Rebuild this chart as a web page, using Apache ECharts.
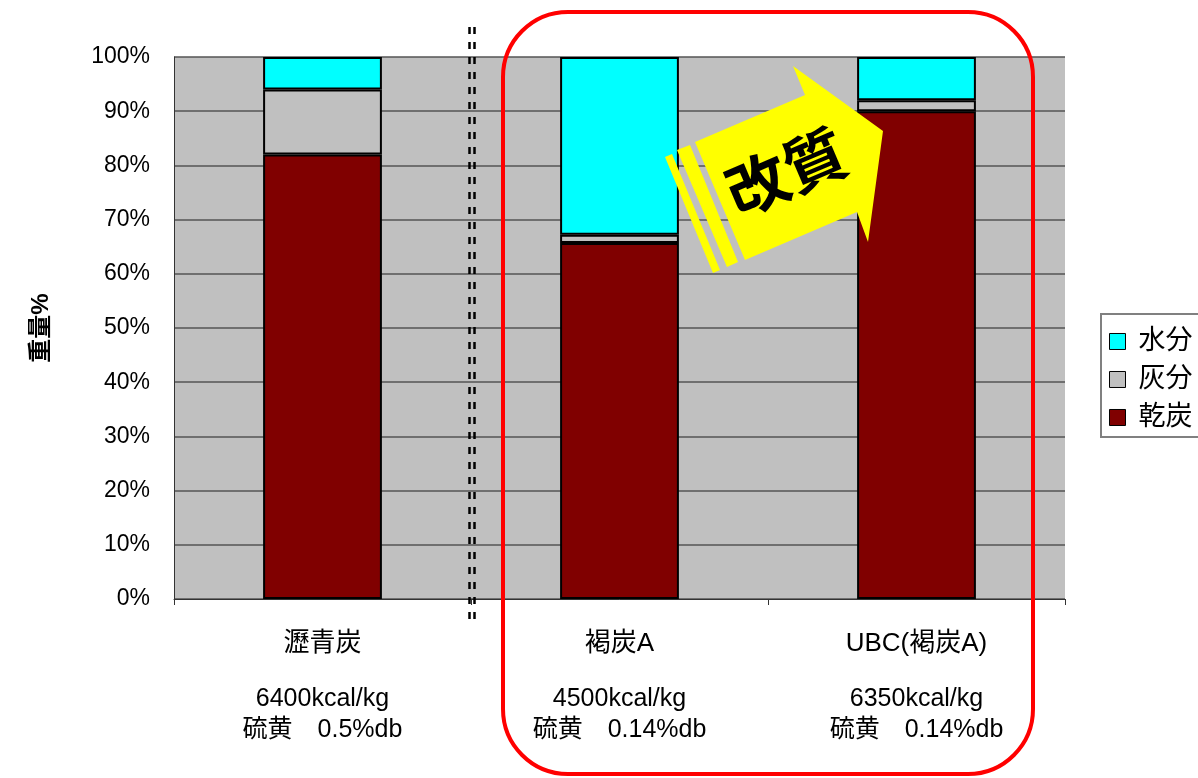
<!DOCTYPE html>
<html>
<head>
<meta charset="utf-8">
<script src="https://cdn.jsdelivr.net/npm/echarts@6/dist/echarts.min.js"></script>
<style>
  html, body { margin: 0; padding: 0; background: #fff; }
  #chart { width: 1198px; height: 778px; }
</style>
</head>
<body>
<div id="chart"></div>
<script>
// coal types
var categories = ["瀝青炭", "褐炭A", "UBC(褐炭A)"];
var calorieLabels = ["6400kcal/kg", "4500kcal/kg", "6350kcal/kg"];
var sulfurLabels = ["硫黄　0.5%db", "硫黄　0.14%db", "硫黄　0.14%db"];

// weight %
var dryCoal = [82, 65.7, 90];
var ash = [12, 1.5, 2];
var moisture = [6, 32.8, 8];

var yTicks = { min: 0, max: 100, interval: 10 };

var FONT = "'Liberation Sans', 'Noto Sans CJK JP', sans-serif";

var chart = echarts.init(document.getElementById("chart"), null, { renderer: "canvas" });

function barSeries(name, data, color) {
    return {
        name: name,
        type: "bar",
        stack: "total",
        barWidth: "40%",
        data: data,
        itemStyle: { color: color, borderColor: "#000", borderWidth: 2 },
    };
}

var option = {
    backgroundColor: "#ffffff",
    animation: false,
    grid: {
        left: 174,
        right: 133,
        top: 57,
        bottom: 179,
        show: true,
        backgroundColor: "#c0c0c0",
        borderWidth: 0,
    },
    legend: {
        orient: "vertical",
        left: 1101,
        top: 314,
        padding: [14, 10, 6, 8],
        itemWidth: 16,
        itemHeight: 16,
        itemGap: 11,
        icon: "rect",
        backgroundColor: "#fff",
        borderColor: "#808080",
        borderWidth: 2,
        data: ["水分", "灰分", "乾炭"],
        itemStyle: { borderColor: "#000", borderWidth: 1 },
        textStyle: { fontFamily: FONT, fontSize: 27, color: "#000", padding: [0, 0, 0, 8] },
    },
    xAxis: {
        type: "category",
        data: categories,
        axisLine: { lineStyle: { color: "#333", width: 1 } },
        axisTick: { show: true, length: 6, lineStyle: { color: "#333" } },
        axisLabel: {
            interval: 0,
            margin: 28,
            color: "#000",
            fontFamily: FONT,
            formatter: function (value, idx) {
                return "{a|" + value + "}\n{g| }\n{b|" + calorieLabels[idx] + "}\n{b|" + sulfurLabels[idx] + "}";
            },
            rich: {
                a: { fontFamily: FONT, fontSize: 26, lineHeight: 34, color: "#000" },
                g: { fontSize: 10, lineHeight: 23 },
                b: { fontFamily: FONT, fontSize: 25, lineHeight: 31, color: "#000" },
            },
        },
    },
    yAxis: {
        type: "value",
        min: yTicks.min,
        max: yTicks.max,
        interval: yTicks.interval,
        name: "重量%",
        nameLocation: "middle",
        nameGap: 121,
        nameRotate: 90,
        nameTextStyle: { fontFamily: FONT, fontSize: 24, fontWeight: "bold", color: "#000" },
        axisLine: { show: true, lineStyle: { color: "#333", width: 1 } },
        axisTick: { show: false },
        axisLabel: {
            margin: 24,
            padding: [6, 0, 0, 0],
            color: "#000",
            fontFamily: FONT,
            fontSize: 23,
            formatter: "{value}%",
        },
        splitLine: { show: true, lineStyle: { color: "#555", width: 1.5 } },
    },
    series: [
        barSeries("乾炭", dryCoal, "#800000"),
        barSeries("灰分", ash, "#c0c0c0"),
        barSeries("水分", moisture, "#00ffff"),
    ],
    graphic: [
        // separator between bituminous and lignite
        {
            type: "line", z: 100,
            shape: { x1: 469.5, y1: 27, x2: 469.5, y2: 620 },
            style: { stroke: "#000", lineWidth: 2.5, lineDash: [7, 8] },
        },
        {
            type: "line", z: 100,
            shape: { x1: 474.5, y1: 27, x2: 474.5, y2: 620 },
            style: { stroke: "#000", lineWidth: 2.5, lineDash: [7, 8] },
        },
        // red frame round lignite / UBC
        {
            type: "rect", z: 100,
            shape: { x: 503, y: 12, width: 530, height: 762, r: 65 },
            style: { fill: "none", stroke: "#ff0000", lineWidth: 4 },
        },
        // yellow arrow
        {
            type: "polygon", z: 101,
            shape: {
                points: [
                    [695, 142], [805, 95], [793, 66], [883, 131],
                    [868, 242], [857, 212], [745, 260],
                ],
            },
            style: { fill: "#ffff00" },
        },
        {
            type: "polygon", z: 101,
            shape: { points: [[677, 150], [690, 145], [738, 262], [727, 267]] },
            style: { fill: "#ffff00" },
        },
        {
            type: "polygon", z: 101,
            shape: { points: [[665, 157], [672, 154], [720, 270], [713, 273]] },
            style: { fill: "#ffff00" },
        },
        {
            type: "text", z: 102,
            x: 786, y: 172,
            rotation: 0.4,
            style: {
                text: "改質",
                fontFamily: "'Noto Sans CJK JP', sans-serif",
                fontSize: 62,
                fontWeight: "bold",
                fill: "#000",
                align: "center",
                verticalAlign: "middle",
            },
        },
    ],
};

chart.setOption(option);
</script>
</body>
</html>
